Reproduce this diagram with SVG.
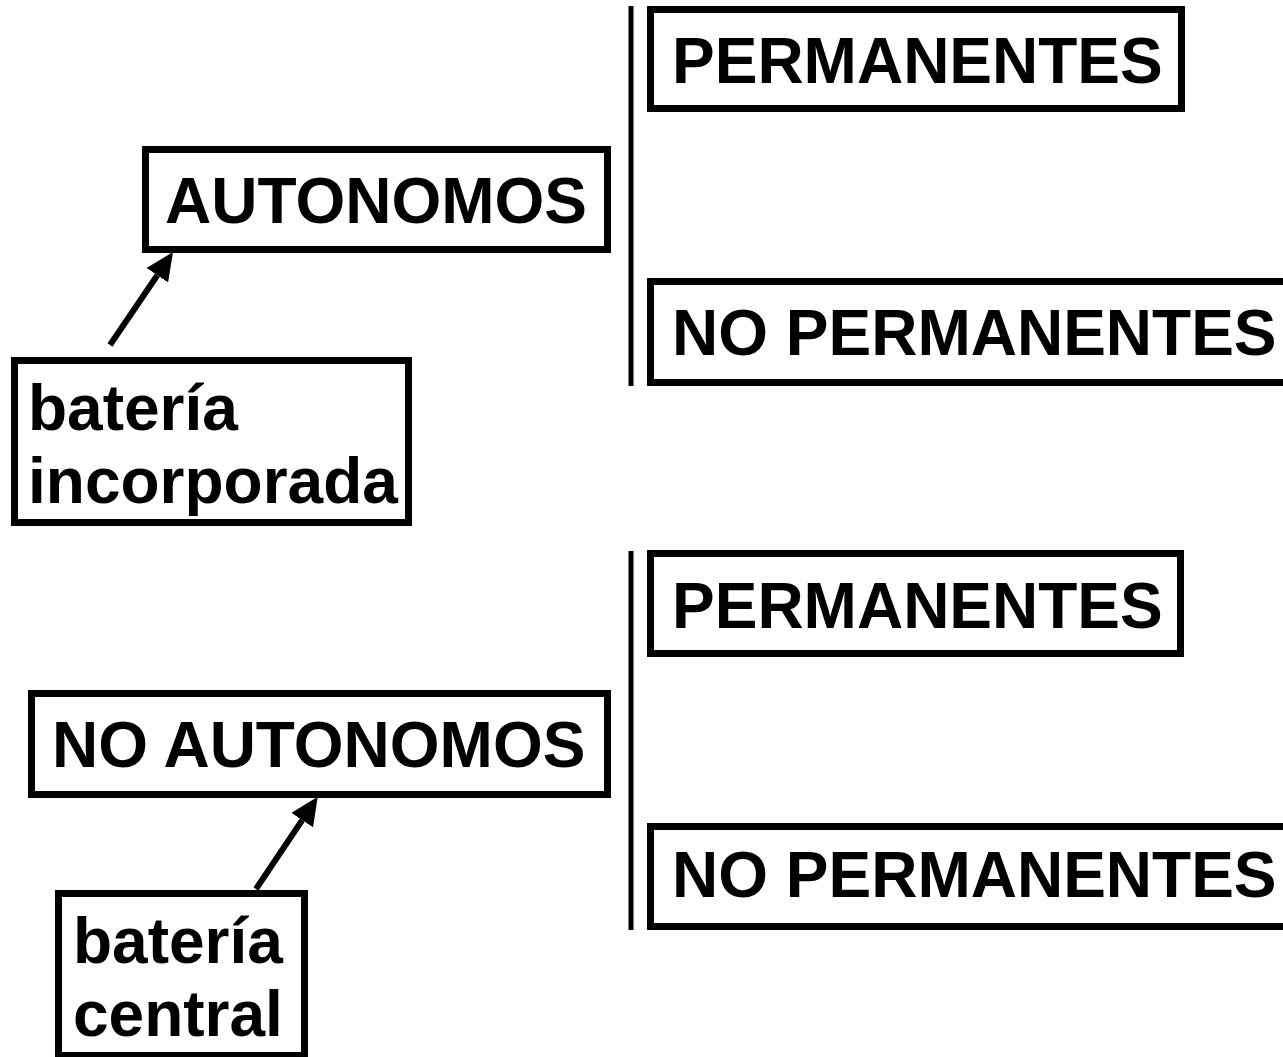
<svg xmlns="http://www.w3.org/2000/svg" width="1283" height="1057" viewBox="0 0 1283 1057">
<style>
.box{fill:#fff;stroke:#000;stroke-width:7}
.t{font-family:"Liberation Sans",Arial,sans-serif;font-weight:bold;font-size:64px;fill:#000}
.bar{stroke:#000;stroke-width:5}
.arr{stroke:#000;stroke-width:6;fill:none}
</style>
<defs>
<marker id="ah" viewBox="0 0 28 26" refX="0" refY="13" markerWidth="28" markerHeight="26" markerUnits="userSpaceOnUse" orient="auto">
<path d="M0,0 L28,13 L0,26 z" fill="#000"/>
</marker>
</defs>
<rect width="1283" height="1057" fill="#fff"/>
<g id="connectors">
<line class="bar" x1="631" y1="6" x2="631" y2="386"/>
<line class="bar" x1="631" y1="551" x2="631" y2="930"/>
<line class="arr" x1="110" y1="345" x2="157.3" y2="275.2" marker-end="url(#ah)"/>
<line class="arr" x1="256" y1="889" x2="302.2" y2="820.1" marker-end="url(#ah)"/>
</g>
<g id="perm1"><rect class="box" x="650.5" y="9.5" width="531" height="99"/><text class="t" x="672" y="83">PERMANENTES</text></g>
<g id="noperm1"><rect class="box" x="650.5" y="281.5" width="700" height="101"/><text class="t" x="672" y="355">NO PERMANENTES</text></g>
<g id="autonomos"><rect class="box" x="145.5" y="149.5" width="462" height="100"/><text class="t" x="165" y="223">AUTONOMOS</text></g>
<g id="bateria-incorporada"><rect class="box" x="14.5" y="360.5" width="394" height="162"/><text class="t" x="28" y="430">batería</text><text class="t" x="28" y="503">incorporada</text></g>
<g id="perm2"><rect class="box" x="650.5" y="553.5" width="530" height="100"/><text class="t" x="672" y="628">PERMANENTES</text></g>
<g id="noperm2"><rect class="box" x="650.5" y="826.5" width="700" height="100"/><text class="t" x="672" y="897">NO PERMANENTES</text></g>
<g id="no-autonomos"><rect class="box" x="31.5" y="693.5" width="576" height="101"/><text class="t" x="52" y="767">NO AUTONOMOS</text></g>
<g id="bateria-central"><rect class="box" x="58.5" y="893.5" width="246" height="162"/><text class="t" x="73" y="963">batería</text><text class="t" x="73" y="1036">central</text></g>
</svg>
